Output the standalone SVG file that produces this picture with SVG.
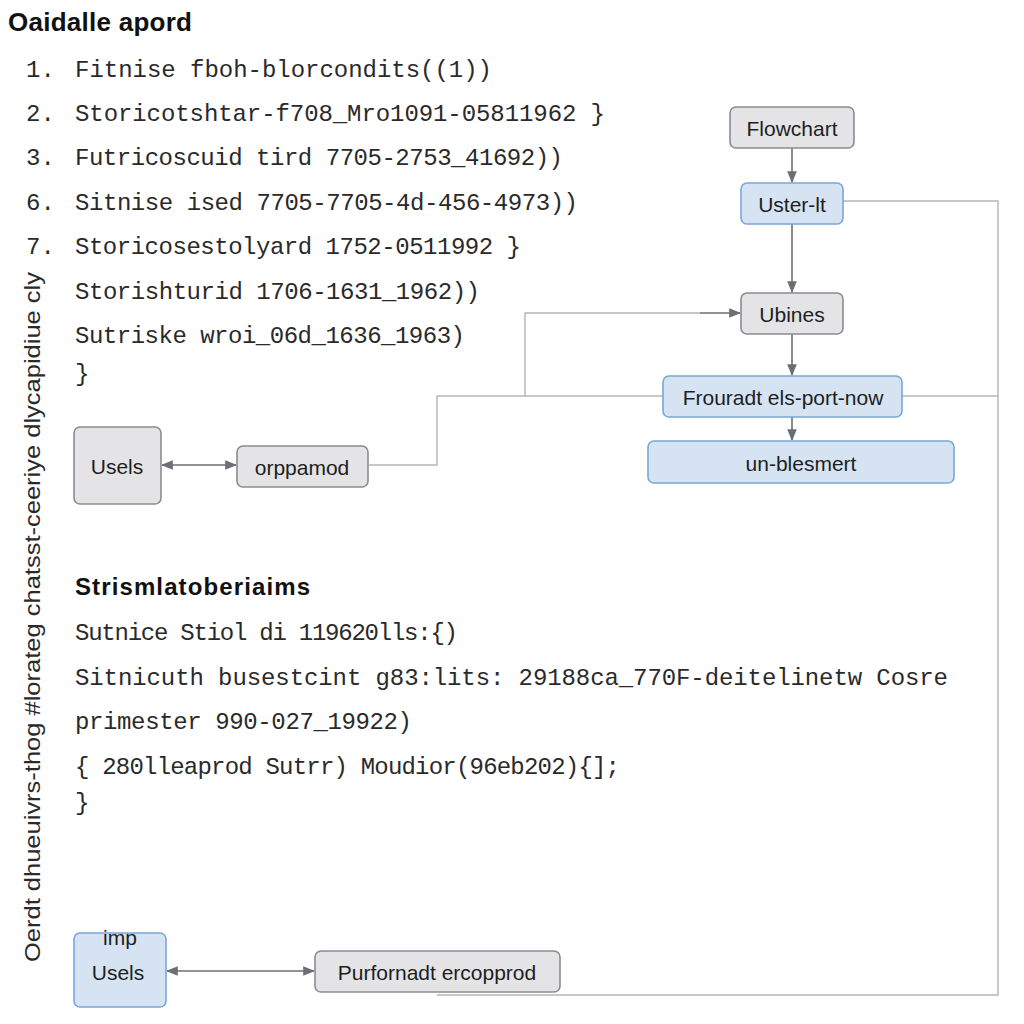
<svg xmlns="http://www.w3.org/2000/svg" width="1024" height="1024" viewBox="0 0 1024 1024">
<style>
.bg{fill:#ffffff}
.title{font-family:"Liberation Sans",Arial,sans-serif;font-weight:bold;fill:#111}
.mono{font-family:"Liberation Mono","DejaVu Sans Mono",monospace;font-size:24px;fill:#2a2a2a}
.lbl{font-family:"Liberation Sans",Arial,sans-serif;font-size:21px;fill:#1e1e1e;text-anchor:middle;dominant-baseline:central}
.gray{fill:#e4e4e6;stroke:#8a8c90;stroke-width:1.6}
.blue{fill:#d5e3f3;stroke:#7aa6d8;stroke-width:1.6}
.arr{fill:none;stroke:#6b6e74;stroke-width:1.6}
.thin{fill:none;stroke:#b5b5b5;stroke-width:1.4}
.side{font-family:"Liberation Sans",Arial,sans-serif;font-size:22px;fill:#2a2a2a}
</style>
<defs>
<marker id="ah2" viewBox="0 0 10 10" refX="9" refY="5" markerWidth="12" markerHeight="12" markerUnits="userSpaceOnUse" orient="auto-start-reverse">
<path d="M0,1 L10,5 L0,9 z" fill="#6b6e74"/>
</marker>
</defs>
<rect class="bg" x="0" y="0" width="1024" height="1024"/>

<text class="title" x="8" y="31" font-size="26" textLength="184">Oaidalle apord</text>

<g id="list">
<text class="mono" x="26" y="77">1.</text><text class="mono" x="75" y="77" textLength="417">Fitnise fboh-blorcondits((1))</text>
<text class="mono" x="26" y="121">2.</text><text class="mono" x="75" y="121" textLength="530">Storicotshtar-f708_Mro1091-05811962 }</text>
<text class="mono" x="26" y="165">3.</text><text class="mono" x="75" y="165" textLength="488">Futricoscuid tird 7705-2753_41692))</text>
<text class="mono" x="26" y="210">6.</text><text class="mono" x="75" y="210" textLength="503">Sitnise ised 7705-7705-4d-456-4973))</text>
<text class="mono" x="26" y="254">7.</text><text class="mono" x="75" y="254" textLength="446">Storicosestolyard 1752-0511992 }</text>
<text class="mono" x="75" y="299" textLength="405">Storishturid 1706-1631_1962))</text>
<text class="mono" x="75" y="343" textLength="390">Sutriske wroi_06d_1636_1963)</text>
<text class="mono" x="75" y="381">}</text>
</g>

<g id="code">
<text class="title" x="75" y="595" font-size="24" textLength="235">Strismlatoberiaims</text>
<text class="mono" x="75" y="640" textLength="383">Sutnice Stiol di 119620lls:{)</text>
<text class="mono" x="75" y="685" textLength="873">Sitnicuth busestcint g83:lits: 29188ca_770F-deitelinetw Cosre</text>
<text class="mono" x="75" y="729" textLength="337">primester 990-027_19922)</text>
<text class="mono" x="75" y="774" textLength="545">{ 280lleaprod Sutrr) Moudior(96eb202){];</text>
<text class="mono" x="75" y="810">}</text>
</g>

<text class="side" transform="translate(40,962) rotate(-90)" x="0" y="0" textLength="690" lengthAdjust="spacingAndGlyphs">Oerdt dhueuivrs-thog #lorateg chatsst-ceeriye dlycapidiue cly</text>

<g id="connectors">
<path class="thin" d="M843,201 H998 V995 H437"/>
<path class="thin" d="M902,396 H998"/>
<path class="thin" d="M663,396 H437 V465 H369"/>
<path class="thin" d="M525,396 V313 H700"/>
<path class="arr" d="M700,313 H740" marker-end="url(#ah2)"/>
<path class="arr" d="M792,148 V182" marker-end="url(#ah2)"/>
<path class="arr" d="M792,224 V292" marker-end="url(#ah2)"/>
<path class="arr" d="M792,334 V375" marker-end="url(#ah2)"/>
<path class="arr" d="M792,417 V440" marker-end="url(#ah2)"/>
<path class="arr" d="M162,465 H236" marker-start="url(#ah2)" marker-end="url(#ah2)"/>
<path class="arr" d="M167,971 H314" marker-start="url(#ah2)" marker-end="url(#ah2)"/>
</g>

<g id="n-flowchart"><rect class="gray" x="730" y="107" width="124" height="41" rx="6"/><text class="lbl" x="792" y="128">Flowchart</text></g>
<g id="n-uster"><rect class="blue" x="741" y="183" width="102" height="41" rx="6"/><text class="lbl" x="792" y="204">Uster-lt</text></g>
<g id="n-ubines"><rect class="gray" x="741" y="293" width="102" height="41" rx="6"/><text class="lbl" x="792" y="314">Ubines</text></g>
<g id="n-frouradt"><rect class="blue" x="663" y="376" width="239" height="41" rx="6"/><text class="lbl" x="783" y="397">Frouradt els-port-now</text></g>
<g id="n-unblesmert"><rect class="blue" x="648" y="441" width="306" height="42" rx="6"/><text class="lbl" x="801" y="463">un-blesmert</text></g>
<g id="n-usels1"><rect class="gray" x="74" y="427" width="87" height="77" rx="6"/><text class="lbl" x="117" y="466">Usels</text></g>
<g id="n-orppamod"><rect class="gray" x="237" y="446" width="131" height="41" rx="6"/><text class="lbl" x="302" y="467">orppamod</text></g>
<g id="n-usels2"><rect class="blue" x="74" y="933" width="92" height="74" rx="6"/><text class="lbl" x="120" y="937" font-size="19">imp</text><text class="lbl" x="118" y="972">Usels</text></g>
<g id="n-purfornadt"><rect class="gray" x="315" y="951" width="245" height="41" rx="6"/><text class="lbl" x="437" y="972">Purfornadt ercopprod</text></g>
</svg>
